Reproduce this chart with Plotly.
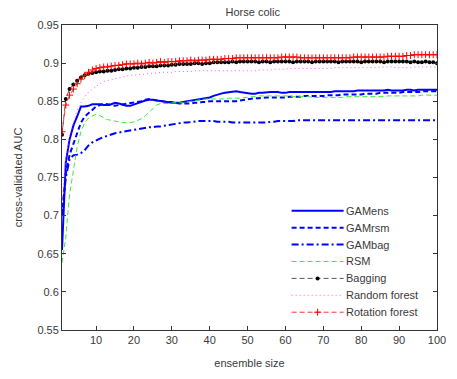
import plotly.graph_objects as go

ensemble_size = list(range(1, 101))

gamens = [
    0.655, 0.770, 0.800, 0.818, 0.830, 0.843, 0.843, 0.844, 0.846, 0.846,
    0.846, 0.845, 0.845, 0.846, 0.848, 0.847, 0.845, 0.844, 0.844, 0.846,
    0.848, 0.849, 0.851, 0.852, 0.852, 0.851, 0.850, 0.849, 0.848, 0.848,
    0.848, 0.848, 0.849, 0.850, 0.851, 0.852, 0.853, 0.853, 0.854, 0.855,
    0.857, 0.858, 0.860, 0.861, 0.862, 0.863, 0.863, 0.862, 0.861, 0.860,
    0.860, 0.860, 0.861, 0.861, 0.862, 0.862, 0.862, 0.862, 0.861, 0.861,
    0.862, 0.862, 0.862, 0.862, 0.862, 0.862, 0.862, 0.862, 0.862, 0.862,
    0.862, 0.862, 0.863, 0.863, 0.863, 0.863, 0.863, 0.863, 0.864, 0.864,
    0.864, 0.864, 0.864, 0.864, 0.864, 0.864, 0.865, 0.864, 0.864, 0.864,
    0.864, 0.865, 0.865, 0.864, 0.865, 0.865, 0.865, 0.865, 0.865, 0.865,
]

gamrsm = [
    0.700, 0.755, 0.780, 0.795, 0.810, 0.822, 0.830, 0.834, 0.839, 0.843,
    0.845, 0.847, 0.846, 0.845, 0.844, 0.845, 0.846, 0.847, 0.848, 0.848,
    0.849, 0.850, 0.852, 0.853, 0.852, 0.851, 0.850, 0.849, 0.849, 0.849,
    0.848, 0.847, 0.847, 0.847, 0.847, 0.848, 0.848, 0.849, 0.849, 0.850,
    0.850, 0.850, 0.850, 0.850, 0.850, 0.850, 0.850, 0.851, 0.852, 0.853,
    0.853, 0.854, 0.854, 0.855, 0.855, 0.855, 0.855, 0.855, 0.855, 0.855,
    0.856, 0.856, 0.856, 0.856, 0.857, 0.857, 0.857, 0.857, 0.857, 0.857,
    0.858, 0.858, 0.858, 0.858, 0.859, 0.859, 0.859, 0.859, 0.859, 0.859,
    0.860, 0.860, 0.860, 0.860, 0.861, 0.861, 0.861, 0.861, 0.861, 0.861,
    0.862, 0.862, 0.862, 0.862, 0.862, 0.863, 0.863, 0.863, 0.863, 0.863,
]

gambag = [
    0.700, 0.750, 0.774, 0.779, 0.780, 0.782, 0.786, 0.792, 0.796, 0.799,
    0.801, 0.803, 0.805, 0.806, 0.808, 0.809, 0.810, 0.811, 0.812, 0.813,
    0.814, 0.815, 0.815, 0.816, 0.816, 0.817, 0.817, 0.818, 0.819, 0.820,
    0.820, 0.821, 0.822, 0.822, 0.823, 0.823, 0.824, 0.824, 0.824, 0.824,
    0.824, 0.823, 0.823, 0.823, 0.823, 0.822, 0.822, 0.822, 0.822, 0.822,
    0.822, 0.822, 0.822, 0.822, 0.822, 0.823, 0.823, 0.824, 0.824, 0.824,
    0.824, 0.824, 0.825, 0.825, 0.825, 0.825, 0.825, 0.825, 0.825, 0.825,
    0.825, 0.825, 0.825, 0.825, 0.825, 0.825, 0.825, 0.825, 0.825, 0.825,
    0.825, 0.825, 0.825, 0.825, 0.825, 0.825, 0.825, 0.825, 0.825, 0.825,
    0.825, 0.825, 0.825, 0.825, 0.825, 0.825, 0.825, 0.825, 0.825, 0.825,
]

rsm = [
    0.638, 0.672, 0.728, 0.760, 0.790, 0.810, 0.822, 0.828, 0.831, 0.833,
    0.831, 0.828, 0.826, 0.825, 0.824, 0.823, 0.822, 0.822, 0.822, 0.823,
    0.825, 0.827, 0.831, 0.836, 0.841, 0.845, 0.847, 0.847, 0.847, 0.848,
    0.848, 0.848, 0.848, 0.849, 0.850, 0.851, 0.852, 0.852, 0.853, 0.853,
    0.853, 0.853, 0.853, 0.853, 0.854, 0.854, 0.854, 0.854, 0.855, 0.855,
    0.856, 0.856, 0.857, 0.857, 0.857, 0.857, 0.857, 0.857, 0.857, 0.857,
    0.857, 0.856, 0.856, 0.856, 0.856, 0.856, 0.855, 0.855, 0.855, 0.855,
    0.855, 0.855, 0.855, 0.855, 0.855, 0.856, 0.856, 0.856, 0.856, 0.856,
    0.856, 0.856, 0.856, 0.856, 0.856, 0.856, 0.857, 0.857, 0.857, 0.857,
    0.857, 0.857, 0.857, 0.857, 0.857, 0.858, 0.858, 0.858, 0.858, 0.858,
]

bagging = [
    0.806, 0.853, 0.866, 0.872, 0.877, 0.881, 0.884, 0.886, 0.887, 0.888,
    0.889, 0.889, 0.890, 0.890, 0.891, 0.892, 0.892, 0.893, 0.893, 0.894,
    0.894, 0.895, 0.895, 0.896, 0.896, 0.896, 0.897, 0.897, 0.897, 0.898,
    0.898, 0.899, 0.899, 0.899, 0.899, 0.900, 0.900, 0.899, 0.900, 0.900,
    0.901, 0.901, 0.901, 0.901, 0.901, 0.902, 0.901, 0.902, 0.902, 0.902,
    0.902, 0.902, 0.901, 0.902, 0.902, 0.901, 0.902, 0.902, 0.902, 0.902,
    0.902, 0.901, 0.902, 0.902, 0.902, 0.902, 0.901, 0.902, 0.902, 0.902,
    0.902, 0.902, 0.902, 0.901, 0.902, 0.902, 0.902, 0.902, 0.902, 0.901,
    0.902, 0.902, 0.902, 0.902, 0.902, 0.901, 0.902, 0.902, 0.902, 0.902,
    0.902, 0.902, 0.901, 0.902, 0.901, 0.901, 0.902, 0.901, 0.901, 0.900,
]

random_forest = [
    0.720, 0.775, 0.805, 0.823, 0.838, 0.848, 0.856, 0.862, 0.866, 0.870,
    0.873, 0.876, 0.877, 0.879, 0.880, 0.881, 0.882, 0.883, 0.884, 0.884,
    0.885, 0.885, 0.886, 0.886, 0.887, 0.887, 0.888, 0.888, 0.888, 0.888,
    0.889, 0.889, 0.889, 0.889, 0.889, 0.890, 0.890, 0.890, 0.890, 0.890,
    0.890, 0.890, 0.890, 0.890, 0.890, 0.890, 0.890, 0.890, 0.890, 0.890,
    0.890, 0.890, 0.891, 0.891, 0.891, 0.891, 0.892, 0.892, 0.892, 0.892,
    0.893, 0.893, 0.893, 0.893, 0.893, 0.893, 0.893, 0.893, 0.893, 0.893,
    0.893, 0.893, 0.894, 0.894, 0.894, 0.894, 0.894, 0.894, 0.894, 0.894,
    0.894, 0.894, 0.894, 0.894, 0.895, 0.895, 0.895, 0.895, 0.894, 0.894,
    0.894, 0.894, 0.894, 0.895, 0.895, 0.895, 0.895, 0.895, 0.895, 0.895,
]

rotation_forest = [
    0.810, 0.845, 0.858, 0.866, 0.873, 0.879, 0.884, 0.888, 0.891, 0.893,
    0.894, 0.895, 0.895, 0.896, 0.897, 0.897, 0.898, 0.899, 0.899, 0.899,
    0.900, 0.899, 0.900, 0.901, 0.900, 0.901, 0.902, 0.901, 0.902, 0.902,
    0.902, 0.903, 0.903, 0.903, 0.904, 0.903, 0.904, 0.904, 0.904, 0.905,
    0.905, 0.905, 0.905, 0.906, 0.906, 0.906, 0.907, 0.907, 0.907, 0.907,
    0.907, 0.907, 0.907, 0.907, 0.907, 0.907, 0.907, 0.907, 0.908, 0.908,
    0.908, 0.908, 0.908, 0.907, 0.907, 0.907, 0.907, 0.907, 0.907, 0.907,
    0.907, 0.907, 0.907, 0.907, 0.907, 0.907, 0.907, 0.908, 0.908, 0.908,
    0.908, 0.908, 0.908, 0.908, 0.908, 0.908, 0.909, 0.909, 0.909, 0.909,
    0.909, 0.910, 0.910, 0.911, 0.911, 0.911, 0.911, 0.911, 0.911, 0.911,
]

series_names = ["GAMens", "GAMrsm", "GAMbag", "RSM", "Bagging", "Random forest", "Rotation forest"]
series_values = [gamens, gamrsm, gambag, rsm, bagging, random_forest, rotation_forest]

x_ticks = [10, 20, 30, 40, 50, 60, 70, 80, 90, 100]
y_ticks = [0.55, 0.6, 0.65, 0.7, 0.75, 0.8, 0.85, 0.9, 0.95]
y_tick_labels = ["0.55", "0.6", "0.65", "0.7", "0.75", "0.8", "0.85", "0.9", "0.95"]

FONT = "Liberation Sans, Arial, sans-serif"
TXT = "#3a3a3a"

# figure geometry (pixels)
W, H = 457, 379
ML, MR, MT, MB = 62, 11, 25, 42
PLOT_H = H - MT - MB
PLOT_W = W - ML - MR

styles = [
    dict(mode="lines", line=dict(color="#0000ff", width=2)),
    dict(mode="lines", line=dict(color="#0000ff", width=2, dash="5px,3px")),
    dict(mode="lines", line=dict(color="#0000ff", width=2, dash="7px,3px,2px,3px")),
    dict(mode="lines", line=dict(color="#33ee33", width=1, dash="5px,3px")),
    dict(mode="lines+markers", line=dict(color="#555555", width=1, dash="5px,3px"),
         marker=dict(color="#000000", size=4, symbol="circle")),
    dict(mode="lines", line=dict(color="#ff55ff", width=1, dash="1px,3px")),
    dict(mode="lines+markers", line=dict(color="#ff3333", width=1, dash="5px,3px"),
         marker=dict(color="#ff0000", size=5, symbol="cross-thin",
                     line=dict(color="#ff0000", width=1))),
]

fig = go.Figure()
for name, vals, st in zip(series_names, series_values, styles):
    fig.add_trace(go.Scatter(x=ensemble_size, y=vals, name=name, showlegend=False, **st))

# legend: one sample per entry (symbol only), labels as left-aligned annotations
legend_layouts = {}
annotations = []
first_center_px = 215.0
spacing_px = 17.3
legend_left_px = 292.0
label_left_px = 350.5
for i, (name, st) in enumerate(zip(series_names, styles)):
    key = "legend" if i == 0 else f"legend{i + 1}"
    fig.add_trace(go.Scatter(x=[None], y=[None], name="", legend=key, showlegend=True,
                             hoverinfo="skip", **st))
    cy = first_center_px + i * spacing_px
    ypaper = (H - MB - cy) / PLOT_H
    legend_layouts[key] = dict(
        x=(legend_left_px - ML) / PLOT_W, xanchor="left",
        y=ypaper, yanchor="middle",
        bgcolor="rgba(0,0,0,0)", borderwidth=0,
        font=dict(family=FONT, size=11, color=TXT),
        itemwidth=52, tracegroupgap=0, itemclick=False, itemdoubleclick=False,
    )
    annotations.append(dict(
        text=name, xref="paper", yref="paper",
        x=(label_left_px - ML) / PLOT_W, xanchor="left",
        y=ypaper, yanchor="middle", showarrow=False,
        font=dict(family=FONT, size=11, color=TXT),
    ))

axis_common = dict(
    showline=True, linecolor="#333333", linewidth=1, mirror="ticks",
    ticks="inside", ticklen=4, tickcolor="#333333", tickwidth=1,
    showgrid=False, zeroline=False,
    tickfont=dict(family=FONT, size=11, color=TXT),
)

fig.update_layout(
    width=W, height=H,
    margin=dict(l=ML, r=MR, t=MT, b=MB),
    paper_bgcolor="white", plot_bgcolor="white",
    title=dict(text="Horse colic", x=0.553, xanchor="center", y=0.967, yanchor="middle",
               font=dict(family=FONT, size=11, color=TXT)),
    xaxis=dict(range=[1, 100], tickvals=x_ticks,
               title=dict(text="ensemble size", font=dict(family=FONT, size=11, color=TXT),
                          standoff=14),
               **axis_common),
    yaxis=dict(range=[0.55, 0.95], tickvals=y_ticks, ticktext=y_tick_labels,
               title=dict(text="cross-validated AUC", font=dict(family=FONT, size=11, color=TXT),
                          standoff=12),
               **axis_common),
    showlegend=True,
    annotations=annotations,
    **legend_layouts,
)

fig.write_html("out.html")
